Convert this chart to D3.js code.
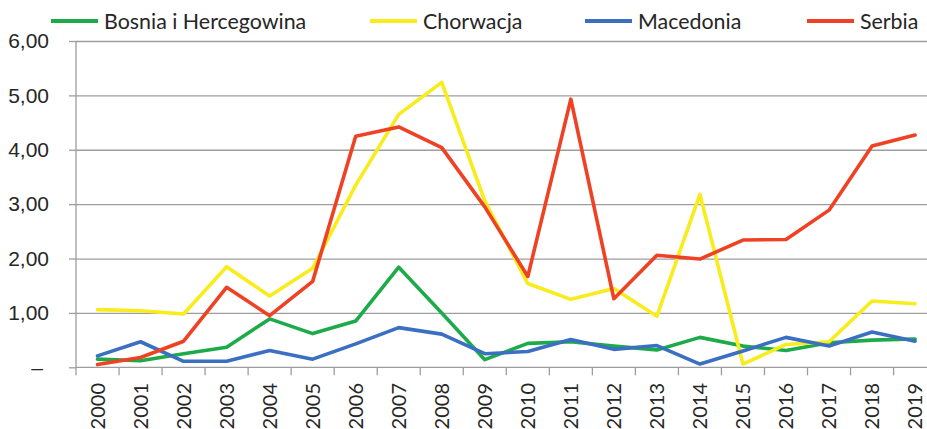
<!DOCTYPE html>
<html>
<head>
<meta charset="utf-8">
<script src="https://cdn.jsdelivr.net/npm/d3@7"></script>
<style>
  html, body { margin: 0; padding: 0; background: #fff; }
  svg { display: block; font-family: Lato, "Open Sans", sans-serif; }
</style>
</head>
<body>
<div id="chart"></div>
<script>
'use strict';

var years = ['2000','2001','2002','2003','2004','2005','2006','2007','2008','2009',
             '2010','2011','2012','2013','2014','2015','2016','2017','2018','2019'];

var bosnia    = [0.15, 0.12, 0.25, 0.37, 0.89, 0.62, 0.85, 1.84, 1.00, 0.14,
                 0.44, 0.47, 0.39, 0.32, 0.55, 0.39, 0.31, 0.45, 0.50, 0.52];
var chorwacja = [1.06, 1.04, 0.98, 1.85, 1.31, 1.82, 3.35, 4.65, 5.24, 3.06,
                 1.54, 1.25, 1.45, 0.94, 3.18, 0.06, 0.42, 0.47, 1.22, 1.17];
var macedonia = [0.21, 0.47, 0.11, 0.11, 0.31, 0.15, 0.43, 0.73, 0.61, 0.25,
                 0.29, 0.51, 0.33, 0.40, 0.06, 0.30, 0.55, 0.39, 0.65, 0.48];
var serbia    = [0.05, 0.18, 0.48, 1.47, 0.95, 1.58, 4.25, 4.42, 4.04, 2.95,
                 1.67, 4.93, 1.26, 2.06, 1.99, 2.34, 2.35, 2.89, 4.07, 4.27];

var seriesNames = ['Bosnia i Hercegowina', 'Chorwacja', 'Macedonia', 'Serbia'];
var seriesColors = ['#1dab4a', '#f9ec1c', '#3b6fc2', '#ef4123'];
var yTicks = [0, 1, 2, 3, 4, 5, 6];

var series = [bosnia, chorwacja, macedonia, serbia].map(function(v, i) {
  return { name: seriesNames[i], color: seriesColors[i], values: v };
});

var W = 927, H = 429;
var plotLeft = 76, plotRight = 936.6, plotTop = 41, plotBottom = 367.3;

var svg = d3.select('#chart').append('svg')
  .attr('width', W).attr('height', H);

var x = d3.scaleBand().domain(years).range([plotLeft, plotRight]).paddingInner(0).paddingOuter(0);
var y = d3.scaleLinear().domain([0, 6]).range([plotBottom, plotTop]);
var cx = function(d) { return x(d) + x.bandwidth() / 2; };

// gridlines
svg.append('g')
  .attr('transform', 'translate(' + plotLeft + ',0)')
  .call(d3.axisLeft(y).tickValues(yTicks.slice(1)).tickSize(-(W - plotLeft)).tickFormat(''))
  .call(function(g) {
    g.select('.domain').remove();
    g.selectAll('line').attr('stroke', '#9d9d9d').attr('stroke-width', 1.3);
  });

// y axis
var yAxis = svg.append('g')
  .attr('transform', 'translate(' + plotLeft + ',0)')
  .call(d3.axisLeft(y).tickValues(yTicks).tickSize(7).tickPadding(20)
    .tickFormat(function(d) { return d === 0 ? '\u2013' : d3.format('.2f')(d).replace('.', ','); }));
yAxis.select('.domain').attr('stroke', '#9d9d9d').attr('stroke-width', 1.3).attr('d', 'M0,' + plotTop + 'V' + plotBottom);
yAxis.selectAll('line').attr('stroke', '#9d9d9d').attr('stroke-width', 1.3);
yAxis.selectAll('text')
  .attr('fill', '#262626').style('font-size', '21px')
  .attr('dx', function(d) { return d === 0 ? -6 : 0; });

// x axis
var xAxis = svg.append('g');
xAxis.append('line')
  .attr('x1', plotLeft).attr('x2', W).attr('y1', plotBottom).attr('y2', plotBottom)
  .attr('stroke', '#9d9d9d').attr('stroke-width', 1.3);
xAxis.selectAll('line.tick')
  .data(years.concat(['end']))
  .enter().append('line')
  .attr('class', 'tick')
  .attr('x1', function(d) { return d === 'end' ? plotRight : x(d); })
  .attr('x2', function(d) { return d === 'end' ? plotRight : x(d); })
  .attr('y1', plotBottom).attr('y2', plotBottom + 8)
  .attr('stroke', '#9d9d9d').attr('stroke-width', 1.3);
xAxis.selectAll('text')
  .data(years)
  .enter().append('text')
  .attr('transform', function(d) { return 'translate(' + cx(d) + ',383) rotate(-90)'; })
  .attr('text-anchor', 'end')
  .attr('dy', '0.36em')
  .attr('fill', '#262626')
  .style('font-size', '20px')
  .text(function(d) { return d; });

// lines
var line = d3.line()
  .x(function(d, i) { return cx(years[i]); })
  .y(function(d) { return y(d); });

svg.selectAll('path.serie')
  .data(series)
  .enter().append('path')
  .attr('class', 'serie')
  .attr('fill', 'none')
  .attr('stroke', function(d) { return d.color; })
  .attr('stroke-width', 3.6)
  .attr('stroke-linejoin', 'round')
  .attr('stroke-linecap', 'round')
  .attr('d', function(d) { return line(d.values); });

// legend
var legendX = [51, 370, 585, 807];
var leg = svg.selectAll('g.legend')
  .data(series)
  .enter().append('g')
  .attr('class', 'legend')
  .attr('transform', function(d, i) { return 'translate(' + legendX[i] + ',21)'; });
leg.append('line')
  .attr('x1', 0).attr('x2', 47)
  .attr('stroke', function(d) { return d.color; })
  .attr('stroke-width', 3.8);
leg.append('text')
  .attr('x', 53)
  .attr('dy', '0.35em')
  .attr('fill', '#262626')
  .style('font-size', '21.4px')
  .text(function(d) { return d.name; });
</script>
</body>
</html>
